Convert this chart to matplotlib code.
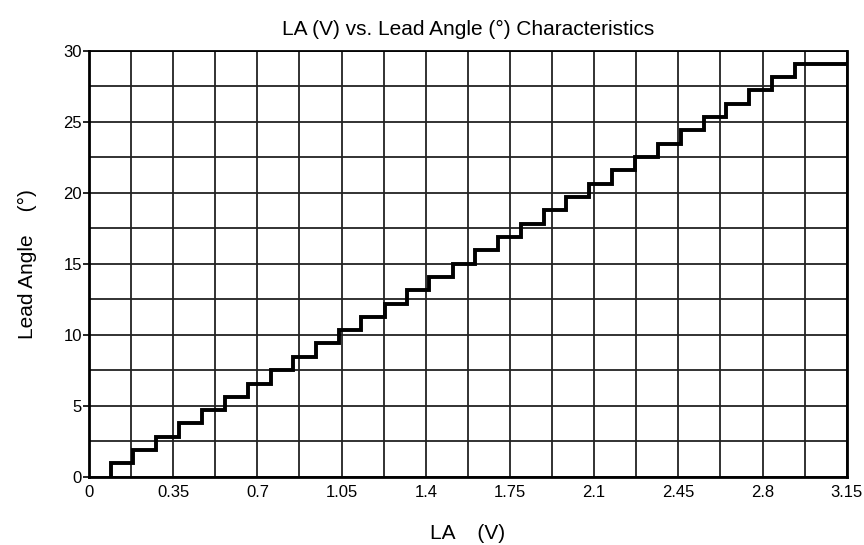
import matplotlib
matplotlib.use("Agg")
import matplotlib.pyplot as plt
from matplotlib.ticker import MultipleLocator

plt.rcParams['font.family'] = ['Liberation Sans', 'DejaVu Sans']

# step positions (LA, V) where the lead angle rises
step_x = [0.09, 0.184, 0.28, 0.375, 0.47, 0.565, 0.66, 0.755, 0.85, 0.943,
          1.04, 1.132, 1.229, 1.322, 1.412, 1.512, 1.606, 1.70, 1.796, 1.89,
          1.985, 2.08, 2.175, 2.27, 2.365, 2.46, 2.555, 2.65, 2.745, 2.84, 2.934]
# lead angle level (deg) after each step
levels = [0.94, 1.88, 2.81, 3.75, 4.69, 5.63, 6.56, 7.5, 8.44, 9.38,
          10.31, 11.25, 12.19, 13.13, 14.06, 15.0, 15.94, 16.88, 17.81, 18.75,
          19.69, 20.63, 21.56, 22.5, 23.44, 24.38, 25.31, 26.25, 27.19, 28.13, 29.06]
x_end = 3.15
x_ticks = [0, 0.35, 0.7, 1.05, 1.4, 1.75, 2.1, 2.45, 2.8, 3.15]
x_tick_labels = ["0", "0.35", "0.7", "1.05", "1.4", "1.75", "2.1", "2.45", "2.8", "3.15"]
y_ticks = [0, 5, 10, 15, 20, 25, 30]

fig = plt.figure(figsize=(8.64, 5.45), dpi=100)
ax = fig.add_axes([0.103, 0.1253, 0.877, 0.782])

xs = [step_x[0]] + step_x + [x_end]
ys = [0] + levels + [levels[-1]]
ax.step(xs, ys, where='post', color='black', lw=2.8, zorder=3, solid_joinstyle='miter')

ax.set_xlim(0, 3.15)
ax.set_ylim(0, 30)
ax.set_xticks(x_ticks)
ax.set_xticklabels(x_tick_labels)
ax.set_yticks(y_ticks)
ax.xaxis.set_minor_locator(MultipleLocator(0.175))
ax.yaxis.set_minor_locator(MultipleLocator(2.5))
ax.grid(True, which='both', color='#222222', lw=1.3)
ax.set_axisbelow(True)
ax.tick_params(which='minor', length=0)
ax.tick_params(which='major', length=4, width=1.2, labelsize=12, color='black')
ax.tick_params(axis='y', pad=1)
ax.tick_params(axis='x', length=0, pad=6)

for side in ['left', 'bottom', 'right']:
    ax.spines[side].set_linewidth(2)
ax.spines['top'].set_linewidth(1.3)

ax.set_title("LA (V) vs. Lead Angle (°) Characteristics", fontsize=15, pad=11)
ax.set_xlabel("LA    (V)", fontsize=15, labelpad=17)
ax.set_ylabel("Lead Angle    (°)", fontsize=15, labelpad=19)

fig.savefig("out.png", dpi=100)
